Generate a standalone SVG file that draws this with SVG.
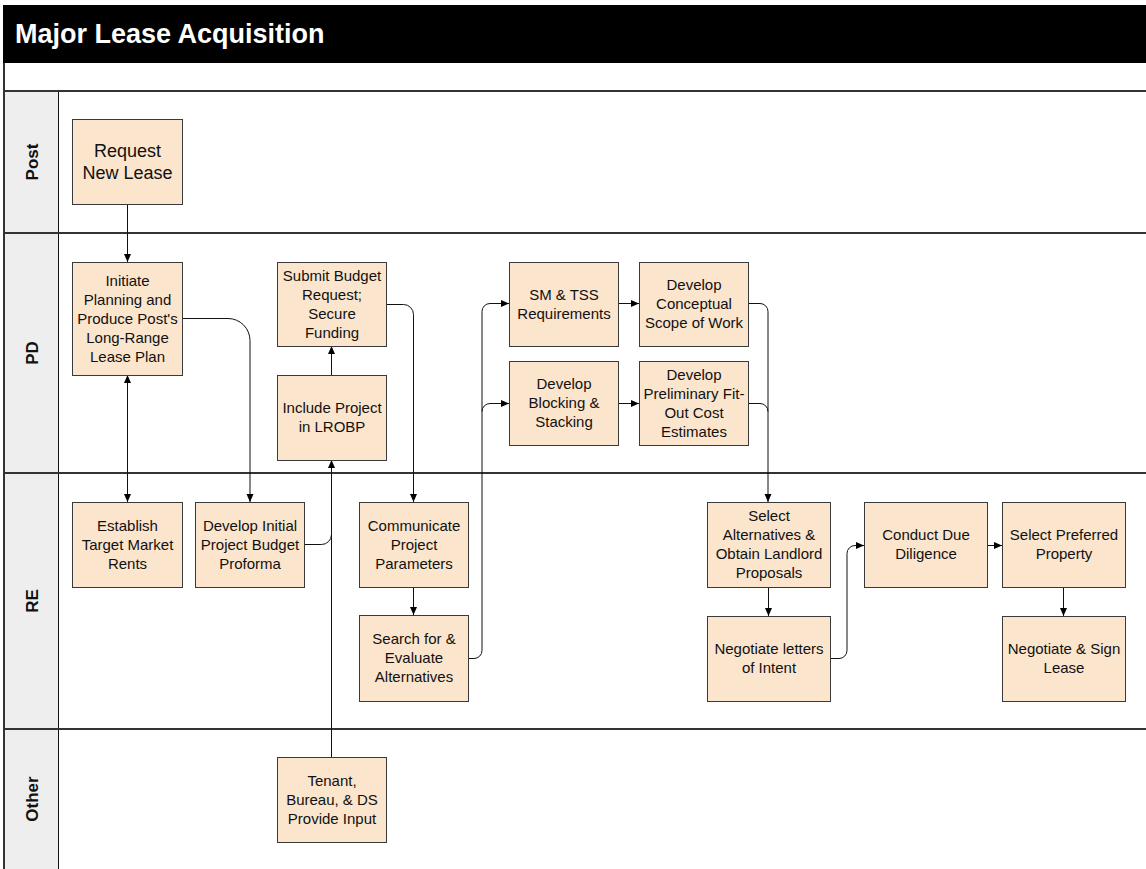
<svg xmlns="http://www.w3.org/2000/svg" width="1146" height="869" viewBox="0 0 1146 869">
<defs>
<style>
text{font-family:"Liberation Sans",Arial,sans-serif;fill:#111}
.box{fill:#fce5cd;stroke:#3a3a3a;stroke-width:1}
.t{font-size:15px;text-anchor:middle}
.tl{font-size:18px;text-anchor:middle}
.lane{font-size:17px;font-weight:bold;text-anchor:middle}
.ll{stroke:#333;stroke-width:2;fill:none}
.c{stroke:#111;stroke-width:1;fill:none}
.a{marker-end:url(#ah)}
</style>
<marker id="ah" markerUnits="userSpaceOnUse" markerWidth="9" markerHeight="8" refX="8" refY="3.5" orient="auto"><path d="M0,0 L8,3.5 L0,7 z" fill="#000"/></marker>
<marker id="ahs" markerUnits="userSpaceOnUse" markerWidth="9" markerHeight="8" refX="8" refY="3.5" orient="auto-start-reverse"><path d="M0,0 L8,3.5 L0,7 z" fill="#000"/></marker>
</defs>
<rect width="1146" height="869" fill="#fff"/>
<g id="frame">
<rect x="3" y="5" width="1143" height="58" fill="#000"/>
<text x="15" y="43" style="font-size:27px;font-weight:bold;fill:#fff">Major Lease Acquisition</text>
<rect x="4" y="91" width="54" height="778" fill="#eeeeee"/>
<line class="ll" x1="4" y1="63" x2="4" y2="869"/>
<line x1="58.5" y1="91" x2="58.5" y2="869" stroke="#111" stroke-width="1"/>
<line class="ll" x1="4" y1="91" x2="1146" y2="91"/>
<line class="ll" x1="4" y1="233" x2="1146" y2="233"/>
<line class="ll" x1="4" y1="473" x2="1146" y2="473"/>
<line class="ll" x1="4" y1="729" x2="1146" y2="729"/>
</g>
<g id="lane-post"><text class="lane" transform="translate(38,162) rotate(-90)">Post</text></g>
<g id="lane-pd"><text class="lane" transform="translate(38,353) rotate(-90)">PD</text></g>
<g id="lane-re"><text class="lane" transform="translate(38,601) rotate(-90)">RE</text></g>
<g id="lane-other"><text class="lane" transform="translate(38,799) rotate(-90)">Other</text></g>

<g id="connectors">
<path class="c a" d="M127.5,204 V262"/>
<path class="c" d="M127.5,375 V502" marker-start="url(#ahs)" marker-end="url(#ah)"/>
<path class="c a" d="M182,318.5 H228 A22,22 0 0 1 250,340.5 V502"/>
<path class="c" d="M304,544.5 H321.5 A10,10 0 0 0 331.5,534.5"/>
<path class="c a" d="M331.5,757 V460"/>
<path class="c a" d="M331.5,375 V346"/>
<path class="c a" d="M386,304.5 H403.5 A10,10 0 0 1 413.5,314.5 V502"/>
<path class="c a" d="M413.5,587 V615"/>
<path class="c a" d="M468,658.5 H474 A8,8 0 0 0 482,650.5 V311.5 A8,8 0 0 1 490,303.5 H509"/>
<path class="c a" d="M482,411.5 A8,8 0 0 1 490,403.5 H509"/>
<path class="c a" d="M618,303.5 H639"/>
<path class="c a" d="M618,403.5 H639"/>
<path class="c a" d="M748,303.5 H760 A8,8 0 0 1 768,311.5 V502"/>
<path class="c" d="M748,403.5 H760 A8,8 0 0 1 768,411.5"/>
<path class="c a" d="M768.5,587 V616"/>
<path class="c a" d="M830,658.5 H839 A8,8 0 0 0 847,650.5 V553.5 A8,8 0 0 1 855,545.5 H864"/>
<path class="c a" d="M987,545.5 H1002"/>
<path class="c a" d="M1063.5,587 V616"/>
</g>

<g id="n-request"><rect class="box" x="72.5" y="119.5" width="110" height="85"/><text class="tl" x="127.5" y="157">Request</text><text class="tl" x="127.5" y="178.7">New Lease</text></g>
<g id="n-initiate"><rect class="box" x="72.5" y="262.5" width="110" height="113"/><text class="t" x="127.5" y="285.5">Initiate</text><text class="t" x="127.5" y="304.5">Planning and</text><text class="t" x="127.5" y="323.5">Produce Post's</text><text class="t" x="127.5" y="342.5">Long-Range</text><text class="t" x="127.5" y="361.5">Lease Plan</text></g>
<g id="n-submit"><rect class="box" x="277.5" y="262.5" width="109" height="84"/><text class="t" x="332" y="280.5">Submit Budget</text><text class="t" x="332" y="299.5">Request;</text><text class="t" x="332" y="318.5">Secure</text><text class="t" x="332" y="337.5">Funding</text></g>
<g id="n-include"><rect class="box" x="277.5" y="375.5" width="109" height="85"/><text class="t" x="332" y="413">Include Project</text><text class="t" x="332" y="432">in LROBP</text></g>
<g id="n-smtss"><rect class="box" x="509.5" y="262.5" width="109" height="84"/><text class="t" x="564" y="299.5">SM &amp; TSS</text><text class="t" x="564" y="318.5">Requirements</text></g>
<g id="n-blocking"><rect class="box" x="509.5" y="361.5" width="109" height="84"/><text class="t" x="564" y="389">Develop</text><text class="t" x="564" y="408">Blocking &amp;</text><text class="t" x="564" y="427">Stacking</text></g>
<g id="n-conceptual"><rect class="box" x="639.5" y="262.5" width="109" height="84"/><text class="t" x="694" y="290">Develop</text><text class="t" x="694" y="309">Conceptual</text><text class="t" x="694" y="328">Scope of Work</text></g>
<g id="n-prelim"><rect class="box" x="639.5" y="361.5" width="109" height="84"/><text class="t" x="694" y="379.5">Develop</text><text class="t" x="694" y="398.5">Preliminary Fit-</text><text class="t" x="694" y="417.5">Out Cost</text><text class="t" x="694" y="436.5">Estimates</text></g>
<g id="n-establish"><rect class="box" x="72.5" y="502.5" width="110" height="85"/><text class="t" x="127.5" y="530.5">Establish</text><text class="t" x="127.5" y="549.5">Target Market</text><text class="t" x="127.5" y="568.5">Rents</text></g>
<g id="n-develop-initial"><rect class="box" x="195.5" y="502.5" width="109" height="85"/><text class="t" x="250" y="530.5">Develop Initial</text><text class="t" x="250" y="549.5">Project Budget</text><text class="t" x="250" y="568.5">Proforma</text></g>
<g id="n-communicate"><rect class="box" x="359.5" y="502.5" width="109" height="85"/><text class="t" x="414" y="530.5">Communicate</text><text class="t" x="414" y="549.5">Project</text><text class="t" x="414" y="568.5">Parameters</text></g>
<g id="n-search"><rect class="box" x="359.5" y="615.5" width="109" height="86"/><text class="t" x="414" y="644">Search for &amp;</text><text class="t" x="414" y="663">Evaluate</text><text class="t" x="414" y="682">Alternatives</text></g>
<g id="n-select-alt"><rect class="box" x="707.5" y="502.5" width="123" height="85"/><text class="t" x="769" y="521">Select</text><text class="t" x="769" y="540">Alternatives &amp;</text><text class="t" x="769" y="559">Obtain Landlord</text><text class="t" x="769" y="578">Proposals</text></g>
<g id="n-negotiate-loi"><rect class="box" x="707.5" y="616.5" width="123" height="85"/><text class="t" x="769" y="654">Negotiate letters</text><text class="t" x="769" y="673">of Intent</text></g>
<g id="n-due"><rect class="box" x="864.5" y="502.5" width="123" height="85"/><text class="t" x="926" y="540">Conduct Due</text><text class="t" x="926" y="559">Diligence</text></g>
<g id="n-preferred"><rect class="box" x="1002.5" y="502.5" width="123" height="85"/><text class="t" x="1064" y="540">Select Preferred</text><text class="t" x="1064" y="559">Property</text></g>
<g id="n-sign"><rect class="box" x="1002.5" y="616.5" width="123" height="85"/><text class="t" x="1064" y="654">Negotiate &amp; Sign</text><text class="t" x="1064" y="673">Lease</text></g>
<g id="n-tenant"><rect class="box" x="277.5" y="757.5" width="109" height="85"/><text class="t" x="332" y="785.5">Tenant,</text><text class="t" x="332" y="804.5">Bureau, &amp; DS</text><text class="t" x="332" y="823.5">Provide Input</text></g>
</svg>
